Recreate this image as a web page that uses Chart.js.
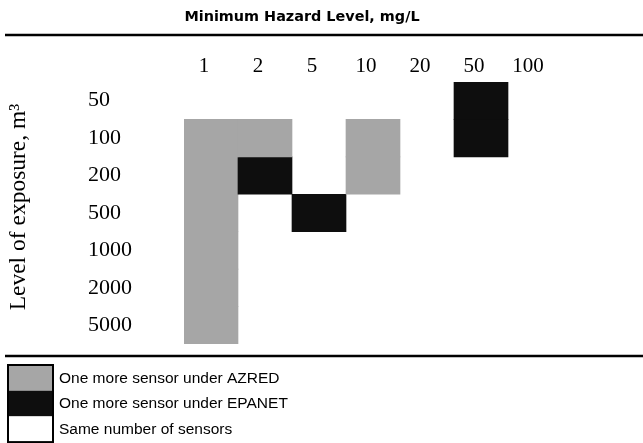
<!DOCTYPE html>
<html>
<head>
<meta charset="utf-8">
<script src="https://cdn.jsdelivr.net/npm/chart.js@4.4.1/dist/chart.umd.min.js"></script>
<style>
  html, body { margin: 0; padding: 0; background: #fff; }
  canvas { display: block; }
</style>
</head>
<body>
<canvas id="grid" width="643" height="443"></canvas>
<script>
// hazard levels (mg/L) across the top, exposure volumes (m3) down the side
const hazardLevels = ['1', '2', '5', '10', '20', '50', '100'];
const exposureLevels = ['50', '100', '200', '500', '1000', '2000', '5000'];

// 0 = same number of sensors, 1 = one more under AZRED, 2 = one more under EPANET
const row50   = [0, 0, 0, 0, 0, 2, 0];
const row100  = [1, 1, 0, 1, 0, 2, 0];
const row200  = [1, 2, 0, 1, 0, 0, 0];
const row500  = [1, 0, 2, 0, 0, 0, 0];
const row1000 = [1, 0, 0, 0, 0, 0, 0];
const row2000 = [1, 0, 0, 0, 0, 0, 0];
const row5000 = [1, 0, 0, 0, 0, 0, 0];
const cellRows = [row50, row100, row200, row500, row1000, row2000, row5000];

const legendLabels = ['One more sensor under AZRED', 'One more sensor under EPANET', 'Same number of sensors'];
const legendCodes = [1, 2, 0];
const codeColors = ['#ffffff', '#a6a6a6', '#0e0e0e'];

const chartTitle = 'Minimum Hazard Level, mg/L';
const yTitle = 'Level of exposure, m\u00b3';

const serif = '"Liberation Serif", "Times New Roman", serif';
const sans = '"Liberation Sans", Arial, sans-serif';

// one floating-bar dataset per row, bars span [row, row+1] on a reversed axis
const datasets = cellRows.map((codes, r) => ({
  label: exposureLevels[r],
  data: codes.map((c) => (c ? [r, r + 1] : null)),
  backgroundColor: codes.map((c) => codeColors[c]),
  borderWidth: 0,
  grouped: false,
  barPercentage: 1,
  categoryPercentage: 1,
}));

const frame = {
  id: 'frame',
  afterDraw(chart) {
    const ctx = chart.ctx;
    ctx.save();

    // title and rules
    ctx.fillStyle = '#000';
    ctx.font = 'bold 14.4px "DejaVu Sans", sans-serif';
    ctx.textAlign = 'center';
    ctx.textBaseline = 'middle';
    ctx.fillText(chartTitle, 302, 17);

    ctx.strokeStyle = '#000';
    ctx.lineWidth = 2.5;
    ctx.beginPath();
    ctx.moveTo(5, 35); ctx.lineTo(643, 35);
    ctx.moveTo(5, 356); ctx.lineTo(643, 356);
    ctx.stroke();

    // vertical axis title
    ctx.save();
    ctx.translate(19, 207);
    ctx.rotate(-Math.PI / 2);
    ctx.font = '23.5px ' + serif;
    ctx.fillText(yTitle, 0, 0);
    ctx.restore();

    // legend
    const boxX = 8, boxW = 45, rowH = 25.7, top = 365;
    legendLabels.forEach((txt, i) => {
      ctx.fillStyle = codeColors[legendCodes[i]];
      ctx.fillRect(boxX, top + i * rowH, boxW, rowH);
      ctx.fillStyle = '#000';
      ctx.font = '15.5px ' + sans;
      ctx.textAlign = 'left';
      ctx.fillText(txt, 59, top + i * rowH + rowH / 2 + 0.5);
    });
    ctx.lineWidth = 2;
    ctx.strokeRect(boxX, top, boxW, rowH * legendLabels.length);

    ctx.restore();
  },
};

new Chart(document.getElementById('grid'), {
  type: 'bar',
  data: { labels: hazardLevels, datasets: datasets },
  options: {
    responsive: false,
    animation: false,
    events: [],
    layout: { padding: { left: 88, right: 81, top: 0, bottom: 99 } },
    plugins: { legend: { display: false }, tooltip: { enabled: false }, title: { display: false } },
    scales: {
      x: {
        position: 'top',
        grid: { display: false, drawTicks: false },
        border: { display: false },
        ticks: { color: '#000', font: { family: serif, size: 21 }, padding: 3, labelOffset: -7, maxRotation: 0 },
        afterFit: (scale) => { scale.height = 82; },
      },
      y: {
        type: 'linear',
        reverse: true,
        min: 0,
        max: exposureLevels.length,
        grid: { display: false, drawTicks: false },
        border: { display: false },
        afterBuildTicks: (scale) => {
          scale.ticks = exposureLevels.map((_, i) => ({ value: i + 0.5 }));
        },
        ticks: {
          color: '#000',
          crossAlign: 'far',
          font: { family: serif, size: 22 },
          callback: (v, i) => exposureLevels[i],
        },
        afterFit: (scale) => { scale.width = 96; },
      },
    },
  },
  plugins: [frame],
});
</script>
</body>
</html>
